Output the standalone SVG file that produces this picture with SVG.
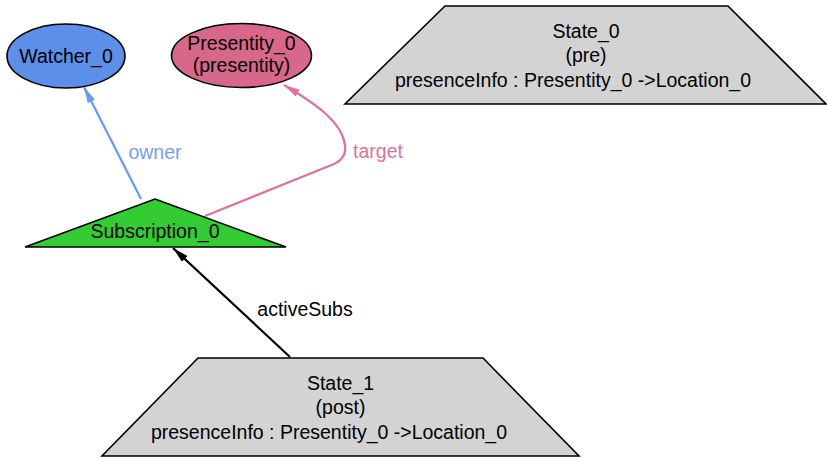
<svg xmlns="http://www.w3.org/2000/svg" width="827" height="458" viewBox="0 0 827 458">
<style>
text{font-family:"Liberation Sans",Arial,sans-serif;font-size:19.5px;text-anchor:middle;fill:#000}
.n{stroke:#000;stroke-width:1.6}
.st{fill:#d3d3d3}
.e{fill:none;stroke-width:2.2}
</style>
<defs>
<marker id="ab" viewBox="0 0 16 8" refX="16" refY="4" markerWidth="16" markerHeight="8" markerUnits="userSpaceOnUse" orient="auto"><path d="M0,0 L16,4 L0,8 Z" fill="#6699ff"/></marker>
<marker id="ap" viewBox="0 0 16 8" refX="16" refY="4" markerWidth="16" markerHeight="8" markerUnits="userSpaceOnUse" orient="auto"><path d="M0,0 L16,4 L0,8 Z" fill="#e0739a"/></marker>
<marker id="ak" viewBox="0 0 16 8" refX="16" refY="4" markerWidth="16" markerHeight="8" markerUnits="userSpaceOnUse" orient="auto"><path d="M0,0 L16,4 L0,8 Z" fill="#000"/></marker>
</defs>
<rect width="827" height="458" fill="#fff"/>
<g id="edges">
<path class="e" d="M141,199 L84,87" stroke="#6699ff" marker-end="url(#ab)"/>
<text x="155" y="159" style="fill:#73a0f0">owner</text>
<path class="e" d="M205,216 L334,164 Q347,158 345,145 C342,122 316,104 284,85" stroke="#e0739a" marker-end="url(#ap)"/>
<text x="378" y="158" style="fill:#e0739a">target</text>
<path class="e" d="M290,357 L173,248" stroke="#000" marker-end="url(#ak)"/>
<text x="305" y="316">activeSubs</text>
</g>
<g id="Watcher_0">
<ellipse class="n" cx="66" cy="56" rx="59" ry="32" fill="#5b8fe8"/>
<text x="66" y="63">Watcher_0</text>
</g>
<g id="Presentity_0">
<ellipse class="n" cx="241.5" cy="55.5" rx="70" ry="32" fill="#d8688a"/>
<text x="241.5" y="50">Presentity_0</text>
<text x="241.5" y="72">(presentity)</text>
</g>
<g id="State_0">
<polygon class="n st" points="445,6 728,6 826,104 345,104"/>
<text x="586" y="38">State_0</text>
<text x="586" y="62">(pre)</text>
<text x="573" y="87">presenceInfo : Presentity_0 -&gt;Location_0</text>
</g>
<g id="Subscription_0">
<polygon class="n" points="155,199 286,247 25,247" fill="#33cc33"/>
<text x="155" y="238">Subscription_0</text>
</g>
<g id="State_1">
<polygon class="n st" points="198,358 483,358 579,456 102,456"/>
<text x="340.5" y="390">State_1</text>
<text x="340.5" y="414">(post)</text>
<text x="329" y="439">presenceInfo : Presentity_0 -&gt;Location_0</text>
</g>
</svg>
